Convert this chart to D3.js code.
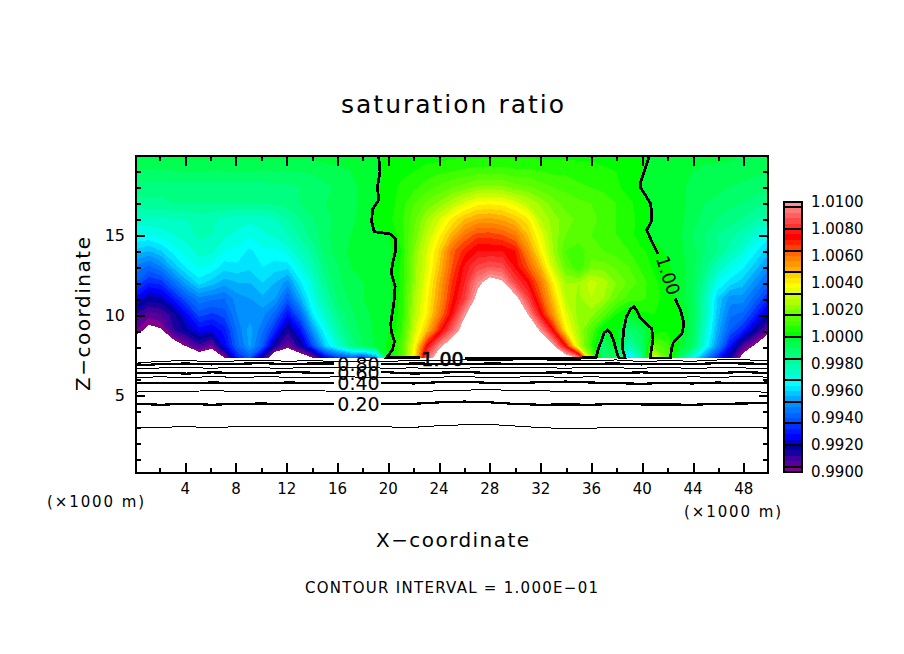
<!DOCTYPE html>
<html>
<head>
<meta charset="utf-8">
<title>saturation ratio</title>
<script src="https://cdn.jsdelivr.net/npm/d3@7"></script>
<style>
  html, body { margin: 0; background: #fff; }
  text { font-family: "DejaVu Sans", sans-serif; fill: #000; }
</style>
</head>
<body>
<div id="chart"></div>
<script>
// saturation ratio field, stored as (S - 1) * 10000
const gridX = d3.range(0, 51);
const gridZ = [20, 19, 18, 17, 16, 15, 14, 13, 12, 11, 10, 9, 8, 7.25];
const fieldRows = [
  [-3,-3,-3,-3,-3,-3,-3,-3,-3,-3, -3,-3,-3,-3,-3,-2,-2,-2,-1,-1, 1,1,1,2,2,3,3,3,3,3, 3,3,3,3,3,3,3,2,2,1, 1,-1,-1,-2,-2,-3,-3,-3,-4,-4,-4],
  [-9,-9,-9,-8,-8,-8,-8,-8,-8,-8, -8,-8,-8,-8,-7,-6,-5,-4,-3,-1, 1,3,4,6,7,8,9,10,10,10, 9,9,8,7,7,6,6,5,4,3, 0,-1,-2,-3,-4,-5,-5,-6,-6,-7,-7],
  [-14,-14,-14,-14,-14,-14,-14,-14,-14,-14, -14,-13,-13,-12,-11,-9,-7,-5,-3,-1, 2,5,7,10,13,16,18,21,22,21, 18,17,14,12,11,9,8,7,5,2, 0,-1,-2,-3,-5,-6,-7,-8,-9,-10,-11],
  [-18,-17,-17,-16,-16,-16,-16,-16,-16,-16, -16,-15,-14,-12,-10,-8,-6,-5,-3,0, 2,6,12,17,21,27,33,38,39,38, 34,28,23,18,14,13,12,10,8,5, 2,-1,-2,-3,-5,-8,-9,-11,-12,-14,-16],
  [-25,-25,-25,-24,-24,-22,-23,-25,-26,-27, -26,-24,-20,-16,-12,-9,-7,-6,-1,1, 3,7,15,24,32,41,48,52,53,51, 47,41,28,22,18,15,13,11,8,6, 2,-1,-2,-3,-6,-10,-12,-14,-16,-20,-22],
  [-32,-32,-30,-28,-26,-23,-24,-27,-29,-31, -29,-27,-24,-19,-14,-9,-6,-4,-3,-1, 0,6,17,28,39,50,60,66,66,64, 59,48,35,23,16,13,12,11,8,6, 1,-1,-2,-3,-8,-12,-16,-19,-22,-28,-34],
  [-41,-44,-40,-34,-30,-26,-27,-32,-33,-37, -33,-33,-30,-24,-18,-10,-6,-3,-3,-2, -1,4,20,32,45,62,70,76,76,76, 72,56,40,24,12,11,13,12,10,8, 5,2,-1,-3,-6,-12,-16,-22,-28,-35,-42],
  [-53,-57,-52,-42,-35,-31,-33,-38,-37,-39, -36,-38,-38,-30,-22,-13,-8,-4,-3,-2, -1,5,22,33,48,64,77,85,88,86, 75,64,49,30,16,8,18,18,15,12, 7,3,1,-2,-6,-14,-24,-30,-35,-42,-50],
  [-60,-68,-66,-56,-46,-38,-42,-46,-44,-44, -40,-44,-50,-37,-27,-16,-9,-6,-4,-2, -1,5,22,36,52,68,80,96,106,102, 85,75,60,40,24,24,30,26,20,15, 10,5,2,-2,-6,-18,-32,-38,-42,-50,-58],
  [-74,-82,-80,-70,-60,-53,-55,-56,-50,-48, -45,-48,-60,-45,-30,-20,-11,-7,-4,-3, -1,6,25,38,54,71,84,104,115,115, 105,85,66,47,28,23,28,24,16,10, 9,6,2,-1,-7,-22,-40,-50,-50,-58,-68],
  [-88,-94,-92,-85,-73,-62,-65,-62,-52,-50, -50,-58,-72,-58,-36,-25,-15,-9,-5,-3, -1,6,26,40,58,76,98,112,118,118, 110,100,76,54,34,22,22,14,4,-1, 3,4,2,1,-6,-22,-42,-55,-57,-68,-80],
  [-96,-103,-101,-88,-82,-74,-76,-70,-55,-46, -55,-68,-86,-72,-48,-32,-20,-11,-6,-3, 0,8,30,48,70,90,108,115,115,115, 115,115,98,74,40,25,12,-1,2,-12, -6,2,3,1,-7,-26,-45,-60,-68,-83,-95],
  [-110,-110,-118,-108,-99,-90,-97,-75,-58,-47, -60,-85,-96,-85,-62,-40,-28,-15,-8,-3, 1,12,36,74,97,110,115,115,115,115, 115,115,112,102,74,30,8,-10,0,-22, -10,15,10,-1,-8,-30,-50,-72,-92,-102,-115],
  [-130,-130,-130,-130,-125,-110,-110,-100,-70,-60, -85,-115,-120,-110,-100,-75,-65,-60,-65,-50, 0,10,40,90,110,120,120,120,120,120, 120,120,120,120,110,98,25,-12,-5,-40, -20,35,15,-10,-30,-50,-68,-85,-105,-120,-130]
];

// shade levels, 0.0004 apart, bottom band first
const shadeLevels = d3.range(-100, 100, 4);
const shadeColors = [
  '#800090',
  '#580098','#4000a0','#1800a0','#0000a0',
  '#0000d0','#0000ff','#0018ff','#0030ff',
  '#0050ff','#0064ff','#0078ff','#0090ff',
  '#00a8ff','#00c8ff','#00e4ff','#00ffff',
  '#00ffe4','#00ffc8','#00ffb0','#00ff98',
  '#00ff80','#00ff68','#00ff50','#00ff30',
  '#00ff00','#20ff00','#40ff00','#58ff00',
  '#70ff00','#90ff00','#b0ff00','#c8ff00',
  '#e8ff00','#ffff00','#ffe800','#ffd000',
  '#ffb000','#ff9800','#ff8000','#ff6800',
  '#ff4000','#ff2000','#ff0000','#ff1818',
  '#ff3030','#ff4848','#ff6060','#ff7878',
  '#ff9090'
];
const barLabels = [0.99, 0.992, 0.994, 0.996, 0.998, 1.0, 1.002, 1.004, 1.006, 1.008, 1.01];
const barDividers = [0.9904, 0.992, 0.9936, 0.9952, 0.9968, 0.9984, 1.0, 1.0016, 1.0032, 1.0048, 1.0064, 1.008, 1.0096];

// contour lines below the shaded region, z at every 2 km of x
const lineX = d3.range(0, 51, 2);
const contour10 = [2.88,2.88,2.92,2.86,2.92,2.96,2.94,2.90,2.90,2.90,2.90,2.88,2.98,3.04,3.06,2.96,2.86,2.80,2.82,2.88,2.88,2.84,2.86,2.88,2.85,2.88];
const contour20 = [4.35,4.30,4.36,4.30,4.35,4.38,4.33,4.35,4.35,4.33,4.33,4.36,4.45,4.50,4.45,4.35,4.30,4.32,4.30,4.35,4.32,4.32,4.30,4.35,4.38,4.40];
const contour30 = [5.10,5.13,5.15,5.18,5.15,5.12,5.18,5.18,5.15,5.15,5.16,5.12,5.18,5.22,5.25,5.20,5.18,5.14,5.12,5.15,5.14,5.12,5.14,5.12,5.16,5.08];
const contour40 = [5.65,5.68,5.66,5.70,5.68,5.66,5.70,5.68,5.66,5.68,5.68,5.64,5.72,5.74,5.68,5.66,5.72,5.76,5.70,5.66,5.62,5.68,5.64,5.70,5.66,5.70];
const contour50 = [6.02,6.06,6.00,6.08,6.02,6.06,6.04,6.02,6.06,6.04,6.02,6.00,6.04,6.08,6.00,6.04,6.08,6.02,6.06,6.02,6.04,6.00,6.06,6.02,6.08,6.04];
const contour60 = [6.28,6.32,6.26,6.34,6.30,6.28,6.36,6.32,6.30,6.28,6.34,6.26,6.32,6.36,6.30,6.28,6.32,6.34,6.28,6.30,6.34,6.28,6.32,6.30,6.36,6.30];
const contour70 = [6.55,6.62,6.64,6.60,6.66,6.62,6.60,6.66,6.62,6.64,6.60,6.62,6.58,6.60,6.66,6.62,6.64,6.60,6.66,6.62,6.60,6.66,6.58,6.64,6.62,6.58];
const contour80 = [6.78,6.86,6.90,6.84,6.88,6.92,6.86,6.90,6.84,6.88,6.86,6.90,6.88,6.86,6.90,6.88,6.86,6.84,6.88,6.90,6.84,6.88,6.86,6.92,6.90,6.88];
const contour90 = [6.92,7.04,7.08,7.02,7.06,7.10,7.04,7.08,7.02,7.06,7.04,7.08,7.10,7.12,7.10,7.12,7.14,7.06,7.10,7.12,7.02,7.08,7.04,7.12,7.14,7.06];
const thinLines = [contour10, contour30, contour50, contour70, contour90];
const thickLines = [contour20, contour40, contour60, contour80];

// the 1.00 contour as [x, z] pieces, broken where its labels sit
const unityLines = [
  [[19.2,19.97],[19.3,19],[19.1,18],[19.2,17.2],[18.7,16.6],[18.65,15.8],[18.85,15.2],[20.1,15.06],[20.55,14.7],[20.55,14.05],[20.3,13.2],[20.2,12.6],[20.5,11.75],[20.4,10.7],[20.15,9.45],[20.2,8.9],[20.45,8.3],[20.3,7.77],[19.85,7.3],[22.5,7.3]],
  [[26,7.2],[30,7.2],[34.9,7.2],[35.5,7.27],[36.4,7.25],[36.6,7.9],[36.85,8.4],[37.05,8.85],[37.3,9],[37.55,8.8],[37.76,8.4],[38,7.7],[38.2,7.25],[38.7,7.25],[38.5,7.8],[38.5,8.3],[38.6,9.1],[38.8,9.85],[39.1,10.3],[39.4,10.5],[39.65,10.2],[39.9,9.75],[40.3,9.45],[40.8,9.1],[40.9,8.4],[40.75,7.7],[40.7,7.25],[42.3,7.25],[42.35,7.8],[42.5,8.2],[42.9,8.55],[43.2,8.8],[43.35,9.4],[43.1,10.2],[42.65,11]],
  [[40.6,19.97],[40.3,19.2],[39.95,18.4],[39.9,18],[40.3,17.5],[40.7,17],[40.8,16.4],[40.8,15.9],[40.4,15.3],[40.8,14.6],[41.3,13.8]]
];

// tick positions
const xMajor = d3.range(4, 49, 4);
const xMinor = d3.range(2, 50, 4);
const zMajor = [5, 10, 15];
const zMinor = d3.range(1, 20).filter(d => d % 5 !== 0);

const width = 904;
const height = 654;

const xScale = d3.scaleLinear().domain([0, 50]).range([136, 768]);
const zScale = d3.scaleLinear().domain([0, 19.97]).range([473, 156]);
// the ticks in the picture sit slightly wider than the frame
const xTick = d3.scaleLinear().domain([0, 50]).range([134.4, 769.2]);
const zTick = d3.scaleLinear().domain([0, 20]).range([475, 155]);

const svg = d3.select('#chart')
  .append('svg')
  .attr('width', width)
  .attr('height', height)
  .style('display', 'block');

svg.append('clipPath').attr('id', 'field-clip')
  .append('rect')
  .attr('x', xScale(0))
  .attr('y', zScale(19.97))
  .attr('width', xScale(50) - xScale(0))
  .attr('height', zScale(7.25) - zScale(19.97));

// grid index -> data, contour coordinates sit half a cell off the samples
const zOfRow = d3.scaleLinear().domain(gridZ.map((d, i) => i + 0.5)).range(gridZ);
const xOfCol = d3.scaleLinear().domain(gridX.map((d, i) => i + 0.5)).range(gridX);
const fieldPath = d3.geoPath(d3.geoTransform({
  point(cx, cy) {
    this.stream.point(xScale(xOfCol(cx)), zScale(zOfRow(cy)));
  }
}));

const bands = d3.contours()
  .size([gridX.length, gridZ.length])
  .thresholds(shadeLevels.concat(100))(fieldRows.flat());

svg.append('g')
  .attr('clip-path', 'url(#field-clip)')
  .selectAll('path')
  .data(bands)
  .join('path')
  .attr('d', fieldPath)
  .attr('fill', (d, i) => shadeColors[i] || '#fff')
  .attr('shape-rendering', 'crispEdges');

// contour lines
const levelLine = d3.line().x((d, i) => xScale(lineX[i])).y(d => zScale(d));
const pairLine = d3.line().x(d => xScale(d[0])).y(d => zScale(d[1]));
const lines = svg.append('g')
  .attr('fill', 'none')
  .attr('stroke', '#000')
  .attr('shape-rendering', 'crispEdges');

lines.selectAll('.thin').data(thinLines).join('path')
  .attr('class', 'thin')
  .attr('stroke-width', 1)
  .attr('d', levelLine);

// even levels break around their label between x = 15.7 and 19.4
thickLines.forEach(z => {
  const left = z.map((d, i) => [lineX[i], d]).filter(d => d[0] <= 14);
  const right = z.map((d, i) => [lineX[i], d]).filter(d => d[0] >= 20);
  left.push([15.7, z[7]]);
  right.unshift([19.4, z[10]]);
  [left, right].forEach(part => {
    lines.append('path').attr('stroke-width', 2.2).attr('d', pairLine(part));
  });
});

lines.selectAll('.unity').data(unityLines).join('path')
  .attr('class', 'unity')
  .attr('stroke-width', 2.8)
  .attr('d', pairLine);

// contour labels
const contourLabels = [
  { text: '0.20', x: 17.6, z: 4.35 },
  { text: '0.40', x: 17.6, z: 5.65 },
  { text: '0.60', x: 17.6, z: 6.3 },
  { text: '0.80', x: 17.6, z: 6.85 },
  { text: '1.00', x: 24.25, z: 7.2 }
];
svg.append('g').selectAll('text').data(contourLabels).join('text')
  .attr('x', d => xScale(d.x))
  .attr('y', d => zScale(d.z))
  .attr('dy', '0.36em')
  .attr('text-anchor', 'middle')
  .attr('font-size', 19)
  .attr('stroke', d => d.text === '1.00' ? '#000' : 'none')
  .attr('stroke-width', 0.6)
  .text(d => d.text);

svg.append('text')
  .attr('transform', `translate(${xScale(42.1)},${zScale(12.45)}) rotate(72)`)
  .attr('dy', '0.36em')
  .attr('text-anchor', 'middle')
  .attr('font-size', 18)
  .text('1.00');

// frame and ticks, ticks point into the plot on all four sides
function drawAxis(axis, tx, ty, size) {
  const g = svg.append('g')
    .attr('transform', `translate(${tx},${ty})`)
    .call(axis.tickSize(size).tickFormat(''));
  g.select('.domain').remove();
  g.selectAll('line').attr('stroke', '#000').attr('stroke-width', 2).attr('shape-rendering', 'crispEdges');
}
const plotLeft = xScale(0);
const plotRight = xScale(50);
const plotBottom = zScale(0);
const plotTop = zScale(19.97);
[[xMajor, -10], [xMinor, -5]].forEach(([vals, size]) => {
  drawAxis(d3.axisBottom(xTick).tickValues(vals), 0, plotBottom, size);
  drawAxis(d3.axisTop(xTick).tickValues(vals), 0, plotTop, size);
});
[[zMajor, -9], [zMinor, -5]].forEach(([vals, size]) => {
  drawAxis(d3.axisLeft(zTick).tickValues(vals), plotLeft, 0, size);
  drawAxis(d3.axisRight(zTick).tickValues(vals), plotRight, 0, size);
});

svg.append('rect')
  .attr('x', plotLeft)
  .attr('y', plotTop)
  .attr('width', plotRight - plotLeft)
  .attr('height', plotBottom - plotTop)
  .attr('fill', 'none')
  .attr('stroke', '#000')
  .attr('stroke-width', 2)
  .attr('shape-rendering', 'crispEdges');

// tick labels
svg.append('g').selectAll('text').data(xMajor).join('text')
  .attr('x', d => xTick(d))
  .attr('y', 494)
  .attr('text-anchor', 'middle')
  .attr('font-size', 15)
  .text(d => d);

svg.append('g').selectAll('text').data(zMajor).join('text')
  .attr('x', 125)
  .attr('y', d => zTick(d))
  .attr('dy', '0.36em')
  .attr('text-anchor', 'end')
  .attr('font-size', 16)
  .text(d => d);

svg.append('text').attr('x', 47).attr('y', 507).attr('font-size', 15).attr('textLength', 97).text('(\u00d71000 m)');
svg.append('text').attr('x', 684).attr('y', 517).attr('font-size', 15).attr('textLength', 97).text('(\u00d71000 m)');

// titles
svg.append('text').attr('x', 341).attr('y', 113).attr('font-size', 25).attr('textLength', 223).text('saturation ratio');
svg.append('text').attr('x', 376).attr('y', 547).attr('font-size', 20).attr('textLength', 153).text('X\u2212coordinate');
svg.append('text').attr('x', 305).attr('y', 593).attr('font-size', 15).attr('textLength', 293).text('CONTOUR INTERVAL = 1.000E\u221201');
svg.append('text')
  .attr('transform', 'translate(90,391) rotate(-90)')
  .attr('font-size', 20)
  .attr('textLength', 154)
  .text('Z\u2212coordinate');

// colour bar
const barScale = d3.scaleLinear().domain([0.99, 1.01]).range([472, 202]);
const barX = 784;
const barW = 18;
const bar = svg.append('g');
bar.selectAll('rect').data(shadeLevels).join('rect')
  .attr('x', barX)
  .attr('y', d => barScale(1 + (d + 4) / 10000))
  .attr('width', barW)
  .attr('height', d => barScale(1 + d / 10000) - barScale(1 + (d + 4) / 10000))
  .attr('fill', (d, i) => shadeColors[i])
  .attr('shape-rendering', 'crispEdges');
bar.selectAll('line').data(barDividers).join('line')
  .attr('x1', barX)
  .attr('x2', barX + barW)
  .attr('y1', d => barScale(d))
  .attr('y2', d => barScale(d))
  .attr('stroke', '#000')
  .attr('stroke-width', 2)
  .attr('shape-rendering', 'crispEdges');
bar.append('rect')
  .attr('x', barX)
  .attr('y', barScale(1.01))
  .attr('width', barW)
  .attr('height', barScale(0.99) - barScale(1.01))
  .attr('fill', 'none')
  .attr('stroke', '#000')
  .attr('stroke-width', 2)
  .attr('shape-rendering', 'crispEdges');
bar.selectAll('text').data(barLabels).join('text')
  .attr('x', 811)
  .attr('y', d => barScale(d))
  .attr('dy', '0.36em')
  .attr('font-size', 15)
  .text(d => d.toFixed(4));
</script>
</body>
</html>
